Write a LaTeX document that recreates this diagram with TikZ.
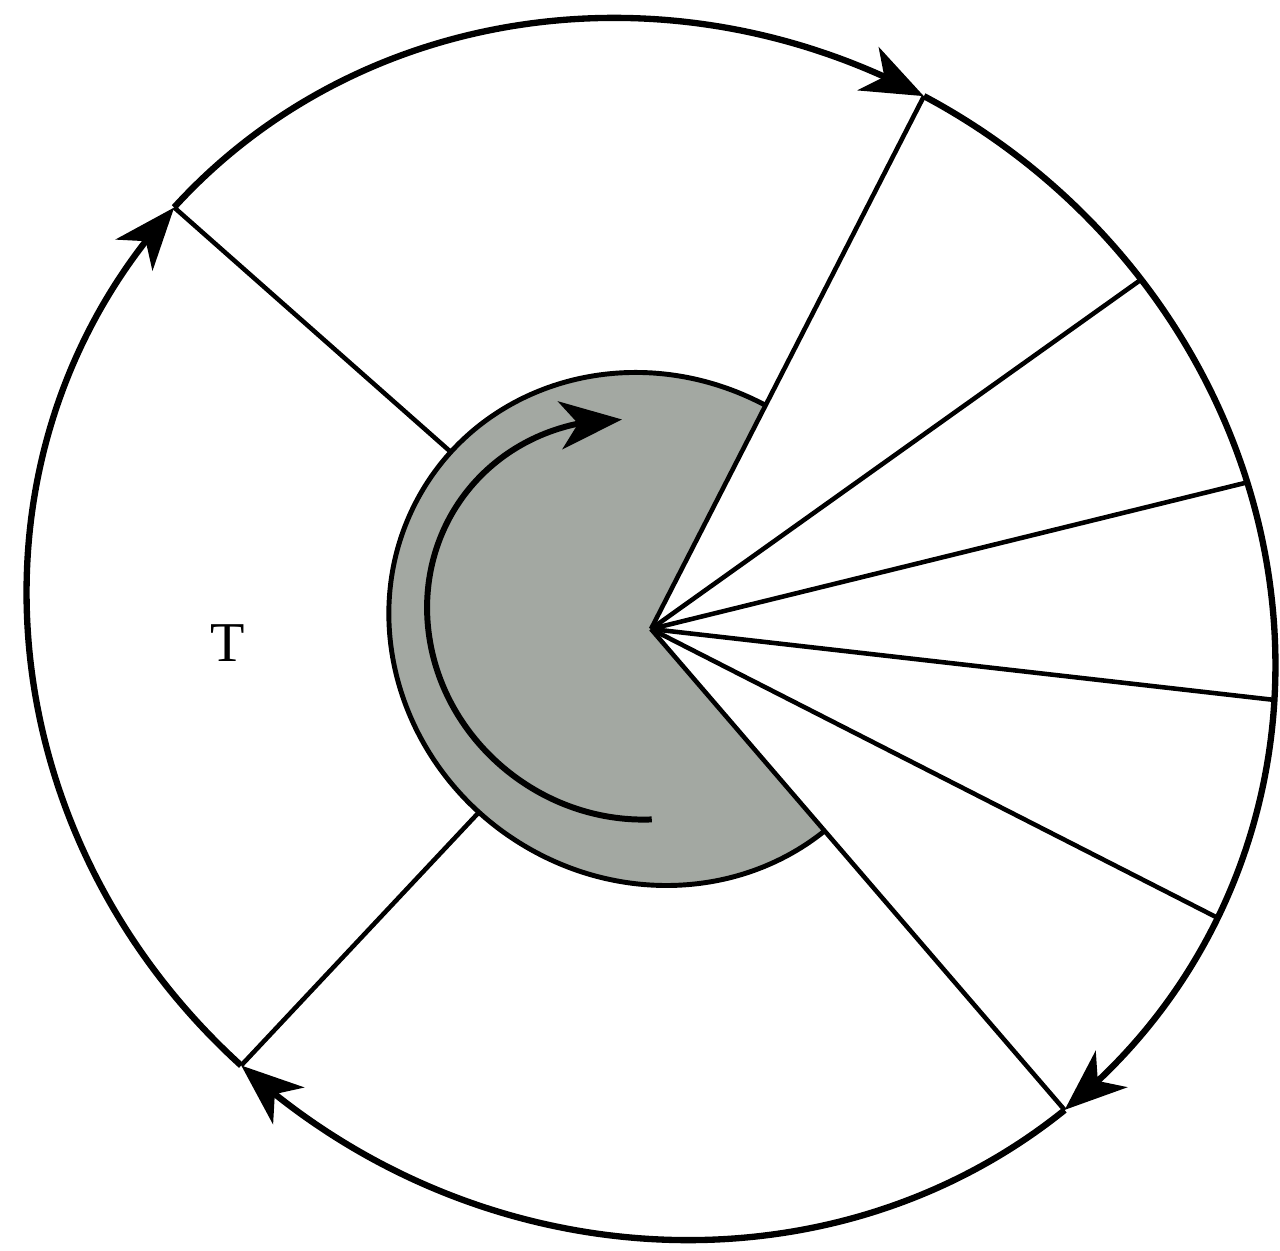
\documentclass[tikz,border=0pt]{standalone}
\usepackage{fontspec}
\setmainfont{Liberation Serif}
\usetikzlibrary{arrows.meta,bending}
\definecolor{hubgray}{RGB}{163,168,162}
\begin{document}
\begin{tikzpicture}[>={Stealth[length=6.2mm,width=4.8mm,inset=1.8mm]},
  rim/.style={line width=1.8pt},
  ray/.style={line width=1.3pt},
  spin/.style={line width=1.7pt}]
\useasboundingbox[fill=white] (-6.51,-6.21) rectangle (6.29,6.29);
\begin{scope}[rotate=-35,xscale=1.0324,yscale=0.9692,rotate=35]
\coordinate (O) at (0,0);
% gray hub with the open wedge
\fill[hubgray] (O) -- (62.4:2.59) arc[start angle=62.4,end angle=309.8,radius=2.59] -- cycle;
\draw[ray,line width=1.4pt] (62.4:2.59) coordinate (h1) arc[start angle=62.4,end angle=309.8,radius=2.59];
% fan of rays
\foreach \a/\n in {62.4/1,36.6/2,15.6/3,-4.95/4,-26.5/5,-50.2/6}
  \draw[ray] (O) -- (\a:6.17) coordinate (f\n);
\draw[ray] (138.1:2.59) coordinate (ul0) -- (138.1:6.17) coordinate (ul);
\draw[ray] (227.3:2.59) coordinate (ll0) -- (227.3:6.17) coordinate (ll);
% outer rim
\draw[rim,->] (ll) arc[start angle=227.3,end angle=138.1,radius=6.17];
\draw[rim,->] (ul) arc[start angle=138.1,end angle=62.4,radius=6.17];
\draw[rim,->] (f1) arc[start angle=62.4,end angle=-50.2,radius=6.17];
\draw[rim,->] (f6) arc[start angle=-50.2,end angle=-132.7,radius=6.17];
% rotation
\coordinate (C) at (-0.19,0.09);
\draw[spin,->] (C) ++(-86:2.02) arc[start angle=-86,end angle=-269,radius=2.02];
\end{scope}
\node[font=\fontsize{16}{19}\selectfont] (T) at (-4.23,-0.14) {T};
\end{tikzpicture}
\end{document}
